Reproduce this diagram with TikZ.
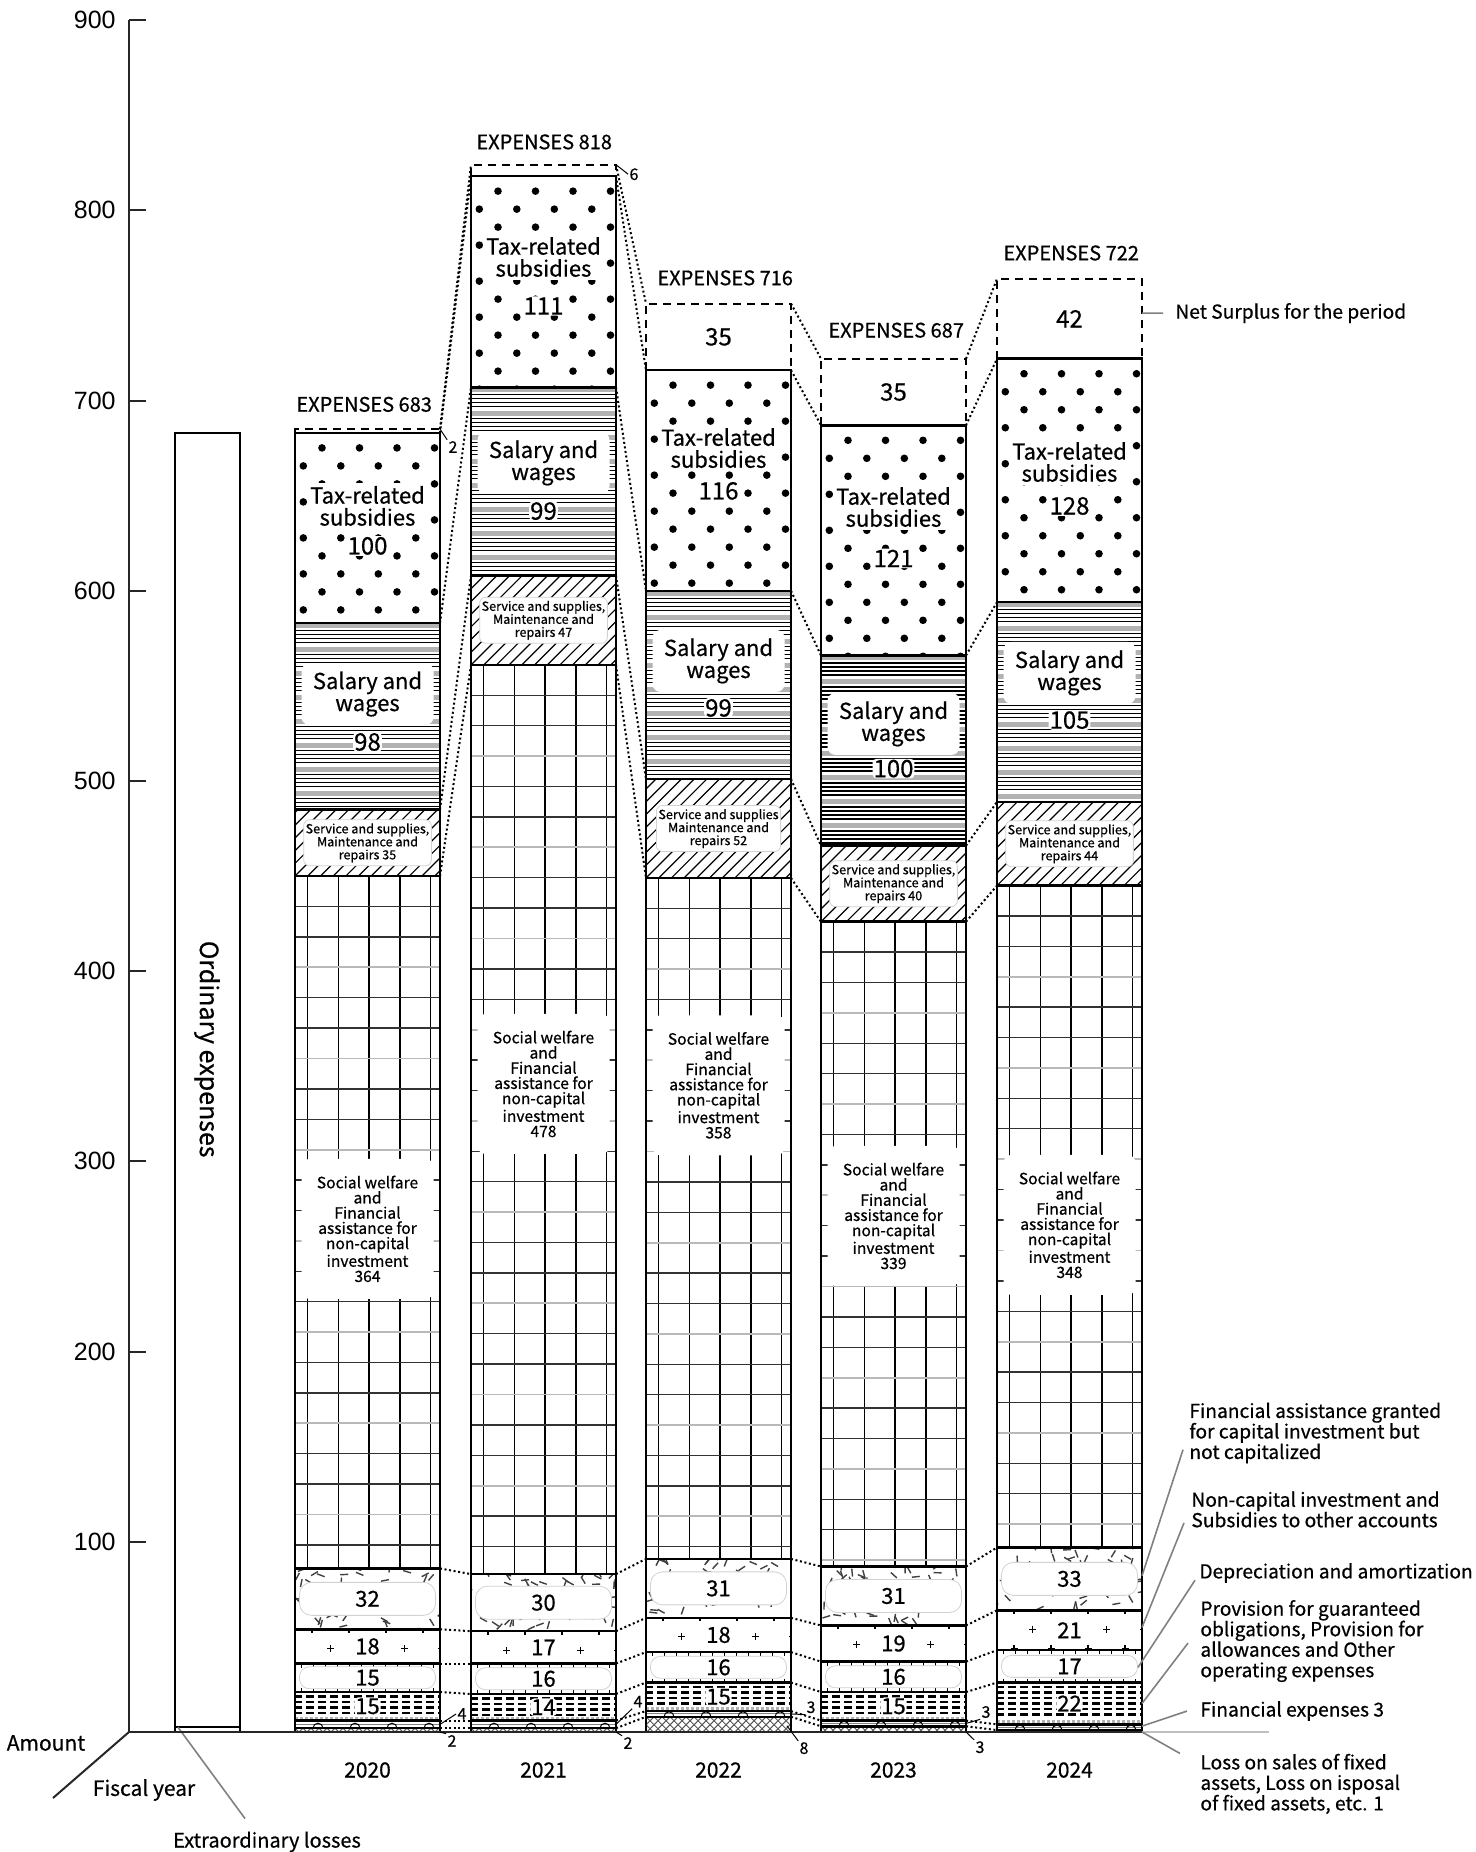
\documentclass[tikz,border=0pt]{standalone}
\usepackage{fontspec}
\setmainfont{Noto Sans CJK JP}[FakeBold=0.6]
\newfontfamily\tickfont{Liberation Sans}
\usetikzlibrary{calc, positioning}

\newcommand{\fsT}{\fontsize{11pt}{11pt}\selectfont}
\newcommand{\fsN}{\fontsize{12pt}{12pt}\selectfont}
\newcommand{\fsB}{\fontsize{11pt}{11pt}\selectfont}
\newcommand{\fsS}{\fontsize{6.3pt}{6.5pt}\selectfont}
\newcommand{\fsW}{\fontsize{7.8pt}{7.6pt}\selectfont}
\newcommand{\fsE}{\fontsize{10pt}{10pt}\selectfont}
\newcommand{\fsL}{\fontsize{9.6pt}{10.25pt}\selectfont}
\newcommand{\fsQ}{\fontsize{8pt}{8pt}\selectfont}
\newcommand{\fsY}{\fontsize{10.5pt}{10.5pt}\selectfont}
\newcommand{\fsO}{\fontsize{12.5pt}{12.5pt}\selectfont}

\tikzset{
  barline/.style={line width=1.25pt},
  axisline/.style={line width=1pt, black!85},
  conn/.style={line width=1pt, dash pattern=on 1pt off 1.3pt},
  leader/.style={gray, line width=0.8pt},
  pointer/.style={line width=0.5pt},
  exp/.style={font=\fsE, inner sep=0pt, anchor=west},
  taxlab/.style={fill=white, align=center, font=\fsT, inner sep=1.5pt},
  num/.style={fill=white, font=\fsN, inner sep=0.5pt, rounded corners=2pt},
  sallab/.style={fill=white, rounded corners=4pt, align=center, font=\fsT,
    minimum width=66pt, minimum height=31pt, inner sep=1pt},
  servlab/.style={fill=white, rounded corners=3pt, draw=gray!35, align=center,
    font=\fsS, minimum width=61pt, minimum height=23pt, inner sep=1pt},
  swlab/.style={fill=white, rounded corners=4pt, align=center, font=\fsW,
    minimum width=66pt, minimum height=70pt, inner sep=1pt},
  fabox/.style={fill=white, rounded corners=6pt, draw=gray!35, font=\fsB,
    minimum width=68pt, minimum height=16.5pt, inner sep=0pt},
  depbox/.style={fill=white, rounded corners=5pt, draw=gray!35, font=\fsB,
    minimum width=68pt, minimum height=11pt, inner sep=0pt},
  patch/.style={fill=white, font=\fsB, inner sep=0.5pt, rounded corners=2pt},
  surpnum/.style={font=\fsN},
  small/.style={font=\fsQ, inner sep=0.5pt},
  legend/.style={font=\fsL, align=left, anchor=west, inner sep=0pt},
  year/.style={font=\fsY},
  tick/.style={font=\tickfont\fontsize{12.5pt}{12.5pt}\selectfont, anchor=east, inner sep=0pt}
}

% one block of a bar: year, level, left, bottom, top, filling
\newcommand{\seg}[6]{%
  \pgfmathsetmacro\hh{(#5-#4)*1.902}%
  \begin{scope}[shift={(#3,#5)}, y=-0.5pt]
    \begin{scope}
      \clip (0,0) rectangle (145,\hh);
      #6
    \end{scope}
    \draw[barline] (0,0) rectangle (145,\hh);
    \coordinate (#1-l#2) at (0,0);
    \coordinate (#1-r#2) at (145,0);
    \coordinate (#1-rb#2) at (145,\hh);
  \end{scope}}

% dashed box on top: year, left, bottom, top
\newcommand{\surplus}[4]{%
  \draw[line width=1pt, dash pattern=on 4pt off 3pt]
    (#2,#3) -- (#2,#4) -- ({#2+145},#4) -- ({#2+145},#3);
  \coordinate (#1-l11) at (#2,#4);
  \coordinate (#1-r11) at ({#2+145},#4);}

% fillings
\newcommand{\lossfill}{\foreach \i in {-2,...,20}
  \draw[gray!70!black, line width=0.5pt] ({8*\i},0) -- ++(20,20) ({8*\i},0) -- ++(-20,20);}
\newcommand{\finfill}{\draw[gray, line width=0.5pt] (0,{\hh/2}) -- (145,{\hh/2});
  \foreach \i in {0,...,3}
    \draw[line width=0.5pt] ({18+37*\i},\hh) arc[start angle=180, end angle=0, radius=2.5pt];}
\newcommand{\provfill}{\foreach \j in {0,...,8}
    \draw[line width=1.1pt, dash pattern=on 4pt off 2pt] (-1,{4.5+5.5*\j}) -- (150,{4.5+5.5*\j});
  \fill[white] (0,{\hh-5}) rectangle (145,\hh);
  \draw[gray!60, line width=1.5pt, dash pattern=on 1.5pt off 1pt] (0,{\hh-2.5}) -- (145,{\hh-2.5});}
\newcommand{\depfill}{\foreach \i in {0,...,12}
  \draw[line width=0.5pt] ({6+12*\i},0) -- ++(0,4) ({6+12*\i},\hh) -- ++(0,-4);}
\newcommand{\ncfill}{\foreach \j in {0,...,3} \foreach \k in {0,...,4}
  \draw[line width=0.6pt] ({17+18.5*mod(\j,2)+37*\k-3.5},{19*\j}) -- ++(7,0) ++(-3.5,-3.5) -- ++(0,7);}
\newcommand{\fagfill}{\foreach \i in {1,...,60} {%
  \pgfmathsetmacro\sx{rnd*145}\pgfmathsetmacro\sy{rnd*\hh}\pgfmathsetmacro\sa{rnd*180}%
  \draw[gray!50!black, line width=0.7pt] (\sx,\sy) -- ++(\sa:4pt);}}
\newcommand{\swfill}{\foreach \k in {0,...,4}
    \draw[line width=0.7pt] ({12.7+30.7*\k},0) -- ({12.7+30.7*\k},\hh);
  \foreach \k in {1,...,30}
    \draw[line width=0.7pt, black!80] (0,{30.4*\k}) -- ++(145,0);
  \foreach \k in {3,6,...,30}
    \draw[line width=0.9pt, gray!55] (0,{30.4*\k}) -- ++(145,0);}
\newcommand{\servfill}{\foreach \i in {-12,...,12}
  \draw[line width=0.6pt] ({12.7*\i},\hh) -- ++(120,-120);}
\newcommand{\salfill}{\foreach \j in {0,...,9} {%
  \fill[gray!60] (0,{24*\j}) rectangle (145,{24*\j+5});
  \foreach \k in {1,...,4}
    \draw[line width=0.7pt] (0,{24*\j+3.5+4*\k}) -- (145,{24*\j+3.5+4*\k});}}
\newcommand{\taxfill}{\foreach \j in {0,...,13} \foreach \k in {0,...,4}
  \fill ({27-18.7*mod(\j,2)+37.5*\k},{15+18*\j}) circle[radius=1.9pt];}

\begin{document}
\begin{tikzpicture}[x=0.5pt, y=0.951pt]
    \pgfmathsetseed{7}
    \useasboundingbox (0,-63.09) rectangle (1476,910.62);

    % axis
    \coordinate (o) at (129,0);
    \coordinate (atop) at (129,900);
    \coordinate (fy) at (53,-34.7);
    \draw[axisline] (o) -- (atop);
    \foreach \v in {100,200,...,900} {
        \draw[axisline] (129,\v) -- (146,\v);
        \node[tick] at (116,\v) {\v};
    }
    \draw[axisline] (o) -- (fy);
    \node[font=\fsY] (amount) at (46,-5.8) {Amount};
    \node[font=\fsY] (fiscal) at (144,-30.5) {Fiscal year};

    % ordinary expenses
    \draw[barline] (175,0) rectangle (240,683);
    \draw[line width=0.8pt] (175,2.5) -- (240,2.5);
    \coordinate (ordfoot) at (178,2.5);
    \node[rotate=-90, font=\fsO] (ord) at (207,359) {Ordinary expenses};
    \node[font=\fsE] (extra) at (267,-57.8) {Extraordinary losses};
    \draw[leader] (ordfoot) -- ([shift={(-11pt,3pt)}]extra.north);

    % 2020
    \seg{2020}{1}{295}{0}{2}{\lossfill}
    \seg{2020}{2}{295}{2}{6}{\finfill}
    \seg{2020}{3}{295}{6}{21}{\provfill}
    \seg{2020}{4}{295}{21}{36}{\depfill}
    \seg{2020}{5}{295}{36}{54}{\ncfill}
    \seg{2020}{6}{295}{54}{86}{\fagfill}
    \seg{2020}{7}{295}{86}{450}{\swfill}
    \seg{2020}{8}{295}{450}{485}{\servfill}
    \seg{2020}{9}{295}{485}{583}{\salfill}
    \seg{2020}{10}{295}{583}{683}{\taxfill}
    \surplus{2020}{295}{683}{685}

    % 2021
    \seg{2021}{1}{471}{0}{2}{\lossfill}
    \seg{2021}{2}{471}{2}{6}{\finfill}
    \seg{2021}{3}{471}{6}{20}{\provfill}
    \seg{2021}{4}{471}{20}{36}{\depfill}
    \seg{2021}{5}{471}{36}{53}{\ncfill}
    \seg{2021}{6}{471}{53}{83}{\fagfill}
    \seg{2021}{7}{471}{83}{561}{\swfill}
    \seg{2021}{8}{471}{561}{608}{\servfill}
    \seg{2021}{9}{471}{608}{707}{\salfill}
    \seg{2021}{10}{471}{707}{818}{\taxfill}
    \surplus{2021}{471}{818}{824}

    % 2022
    \seg{2022}{1}{646}{0}{8}{\lossfill}
    \seg{2022}{2}{646}{8}{11}{\finfill}
    \seg{2022}{3}{646}{11}{26}{\provfill}
    \seg{2022}{4}{646}{26}{42}{\depfill}
    \seg{2022}{5}{646}{42}{60}{\ncfill}
    \seg{2022}{6}{646}{60}{91}{\fagfill}
    \seg{2022}{7}{646}{91}{449}{\swfill}
    \seg{2022}{8}{646}{449}{501}{\servfill}
    \seg{2022}{9}{646}{501}{600}{\salfill}
    \seg{2022}{10}{646}{600}{716}{\taxfill}
    \surplus{2022}{646}{716}{751}

    % 2023
    \seg{2023}{1}{821}{0}{3}{\lossfill}
    \seg{2023}{2}{821}{3}{6}{\finfill}
    \seg{2023}{3}{821}{6}{21}{\provfill}
    \seg{2023}{4}{821}{21}{37}{\depfill}
    \seg{2023}{5}{821}{37}{56}{\ncfill}
    \seg{2023}{6}{821}{56}{87}{\fagfill}
    \seg{2023}{7}{821}{87}{426}{\swfill}
    \seg{2023}{8}{821}{426}{466}{\servfill}
    \seg{2023}{9}{821}{466}{566}{\salfill}
    \seg{2023}{10}{821}{566}{687}{\taxfill}
    \surplus{2023}{821}{687}{722}

    % 2024
    \seg{2024}{1}{997}{0}{1}{\lossfill}
    \seg{2024}{2}{997}{1}{4}{\finfill}
    \seg{2024}{3}{997}{4}{26}{\provfill}
    \seg{2024}{4}{997}{26}{43}{\depfill}
    \seg{2024}{5}{997}{43}{64}{\ncfill}
    \seg{2024}{6}{997}{64}{97}{\fagfill}
    \seg{2024}{7}{997}{97}{445}{\swfill}
    \seg{2024}{8}{997}{445}{489}{\servfill}
    \seg{2024}{9}{997}{489}{594}{\salfill}
    \seg{2024}{10}{997}{594}{722}{\taxfill}
    \surplus{2024}{997}{722}{764}

    % baseline
    \coordinate (bend) at (1269,0);
    \draw[axisline] (o) -- (2024-rb1);
    \draw[gray!50, line width=0.6pt] (2024-rb1) -- (bend);

    % dotted links between the bars
    \foreach \a/\b in {2020/2021, 2021/2022, 2022/2023, 2023/2024}
        \foreach \k in {1,...,11}
            \draw[conn] (\a-r\k) -- (\b-l\k);

    % labels 2020
    \node[exp] (e2020) at (296,698) {EXPENSES 683};
    \node[taxlab] (tax2020) at (367.5,644.6) {Tax-related\\subsidies};
    \node[num] (taxv2020) at (367.5,623.6) {100};
    \node[sallab] (sal2020) at (367.5,545.7) {Salary and\\wages};
    \node[num] (salv2020) at (367.5,520.5) {98};
    \node[servlab] (serv2020) at (367.5,467.5) {Service and supplies,\\Maintenance and\\repairs 35};
    \node[swlab] (sw2020) at (367.5,264.5) {Social welfare\\and\\Financial\\assistance for\\non-capital\\investment\\364};
    \node[fabox] (fa2020) at (367.5,70) {32};
    \node[patch] (nc2020) at (367.5,45) {18};
    \node[depbox] (dep2020) at (367.5,28.5) {15};
    \node[patch] (prov2020) at (367.5,13.5) {15};
    \node[small] (s2020t) at (453,675.6) {2};
    \node[small] (s2020f) at (462,9.5) {4};
    \node[small] (s2020l) at (452,-4.7) {2};
    \draw[pointer] (2020-r11) -- (s2020t.north west);
    \draw[pointer] ($(2020-r1)!0.5!(2020-r2)$) -- (s2020f.west);
    \draw[pointer] (2020-rb1) -- (s2020l.north west);

    % labels 2021
    \node[exp] (e2021) at (476,836) {EXPENSES 818};
    \node[taxlab] (tax2021) at (543.5,775.5) {Tax-related\\subsidies};
    \node[num] (taxv2021) at (543.5,749.7) {111};
    \node[sallab] (sal2021) at (543.5,667.2) {Salary and\\wages};
    \node[num] (salv2021) at (543.5,641.9) {99};
    \node[servlab] (serv2021) at (543.5,584.5) {Service and supplies,\\Maintenance and\\repairs 47};
    \node[swlab] (sw2021) at (543.5,340.7) {Social welfare\\and\\Financial\\assistance for\\non-capital\\investment\\478};
    \node[fabox] (fa2021) at (543.5,68) {30};
    \node[patch] (nc2021) at (543.5,44.5) {17};
    \node[depbox] (dep2021) at (543.5,28) {16};
    \node[patch] (prov2021) at (543.5,13) {14};
    \node[small] (s2021t) at (634,819) {6};
    \node[small] (s2021f) at (638,16) {4};
    \node[small] (s2021l) at (628,-5.8) {2};
    \draw[pointer] (2021-r11) -- (s2021t.west);
    \draw[pointer] ($(2021-r1)!0.5!(2021-r2)$) -- (s2021f.south west);
    \draw[pointer] (2021-rb1) -- (s2021l.north west);

    % labels 2022
    \node[exp] (e2022) at (657,764.5) {EXPENSES 716};
    \node[surpnum] (ns2022) at (718.5,733.5) {35};
    \node[taxlab] (tax2022) at (718.5,675) {Tax-related\\subsidies};
    \node[num] (taxv2022) at (718.5,652.5) {116};
    \node[sallab] (sal2022) at (718.5,563.1) {Salary and\\wages};
    \node[num] (salv2022) at (718.5,538.4) {99};
    \node[servlab] (serv2022) at (718.5,475) {Service and supplies\\Maintenance and\\repairs 52};
    \node[swlab] (sw2022) at (718.5,340) {Social welfare\\and\\Financial\\assistance for\\non-capital\\investment\\358};
    \node[fabox] (fa2022) at (718.5,75.5) {31};
    \node[patch] (nc2022) at (718.5,51) {18};
    \node[depbox] (dep2022) at (718.5,34) {16};
    \node[patch] (prov2022) at (718.5,18.5) {15};
    \node[small] (s2022f) at (811,13) {3};
    \node[small] (s2022l) at (804,-8.5) {8};
    \draw[pointer] ($(2022-r1)!0.5!(2022-r2)$) -- (s2022f.south west);
    \draw[pointer] ([xshift=-2pt]$(2022-rb1)!0.4!(2022-r1)$) -- (s2022l.north west);

    % labels 2023
    \node[exp] (e2023) at (828,737) {EXPENSES 687};
    \node[surpnum] (ns2023) at (893.5,704.5) {35};
    \node[taxlab] (tax2023) at (893.5,644) {Tax-related\\subsidies};
    \node[num] (taxv2023) at (893.5,617) {121};
    \node[sallab] (sal2023) at (893.5,530) {Salary and\\wages};
    \node[num] (salv2023) at (893.5,506.5) {100};
    \node[servlab] (serv2023) at (893.5,446) {Service and supplies,\\Maintenance and\\repairs 40};
    \node[swlab] (sw2023) at (893.5,271.3) {Social welfare\\and\\Financial\\assistance for\\non-capital\\investment\\339};
    \node[fabox] (fa2023) at (893.5,71.5) {31};
    \node[patch] (nc2023) at (893.5,46.5) {19};
    \node[depbox] (dep2023) at (893.5,29) {16};
    \node[patch] (prov2023) at (893.5,13.5) {15};
    \node[small] (s2023f) at (986,10.5) {3};
    \node[small] (s2023l) at (980,-8) {3};
    \draw[pointer] ($(2023-r1)!0.5!(2023-r2)$) -- (s2023f.south west);
    \draw[pointer] (2023-rb1) -- (s2023l.north west);

    % labels 2024
    \node[exp] (e2024) at (1003,777.6) {EXPENSES 722};
    \node[surpnum] (ns2024) at (1069.5,743) {42};
    \node[taxlab] (tax2024) at (1069.5,667.7) {Tax-related\\subsidies};
    \node[num] (taxv2024) at (1069.5,644.6) {128};
    \node[sallab] (sal2024) at (1069.5,556.8) {Salary and\\wages};
    \node[num] (salv2024) at (1069.5,532) {105};
    \node[servlab] (serv2024) at (1069.5,467) {Service and supplies,\\Maintenance and\\repairs 44};
    \node[swlab] (sw2024) at (1069.5,266.6) {Social welfare\\and\\Financial\\assistance for\\non-capital\\investment\\348};
    \node[fabox] (fa2024) at (1069.5,80.5) {33};
    \node[patch] (nc2024) at (1069.5,53.5) {21};
    \node[depbox] (dep2024) at (1069.5,34.5) {17};
    \node[patch] (prov2024) at (1069.5,15) {22};

    % fiscal years
    \node[year] (y2020) at (367.5,-20) {2020};
    \node[year] (y2021) at (543.5,-20) {2021};
    \node[year] (y2022) at (718.5,-20) {2022};
    \node[year] (y2023) at (893.5,-20) {2023};
    \node[year] (y2024) at (1069.5,-20) {2024};

    % legend on the right
    \node[legend] (lns) at (1175,746) {Net Surplus for the period};
    \node[legend] (lfa) at (1189,157.2) {Financial assistance granted\\for capital investment but\\not capitalized};
    \node[legend] (lnc) at (1191,117) {Non-capital investment and\\Subsidies to other accounts};
    \node[legend] (ldep) at (1199,83.6) {Depreciation and amortization};
    \node[legend] (lprov) at (1200,47.8) {Provision for guaranteed\\obligations, Provision for\\allowances and Other\\operating expenses};
    \node[legend] (lfin) at (1200,11) {Financial expenses 3};
    \node[legend] (lloss) at (1200,-27.3) {Loss on sales of fixed\\assets, Loss on isposal\\of fixed assets, etc. 1};

    \draw[leader] ([xshift=-6pt]lns.west) -- ($(2024-r10)!0.57!(2024-r11)$);
    \draw[leader] ([shift={(-3pt,7pt)}]lfa.south west) -- ($(2024-r5)!0.55!(2024-r6)$);
    \draw[leader] ([shift={(-3.5pt,2.5pt)}]lnc.south west) -- ($(2024-r4)!0.57!(2024-r5)$);
    \draw[leader] ([shift={(-2pt,1.5pt)}]ldep.south west) -- ([xshift=-2pt]$(2024-r3)!0.47!(2024-r4)$);
    \draw[leader] ([shift={(-6pt,-1pt)}]lprov.west) -- ($(2024-r2)!0.5!(2024-r3)$);
    \draw[leader] ([xshift=-6.5pt]lfin.west) -- ($(2024-r1)!0.7!(2024-r2)$);
    \draw[leader] ([xshift=-10pt]lloss.north west) -- (2024-rb1);
\end{tikzpicture}
\end{document}
